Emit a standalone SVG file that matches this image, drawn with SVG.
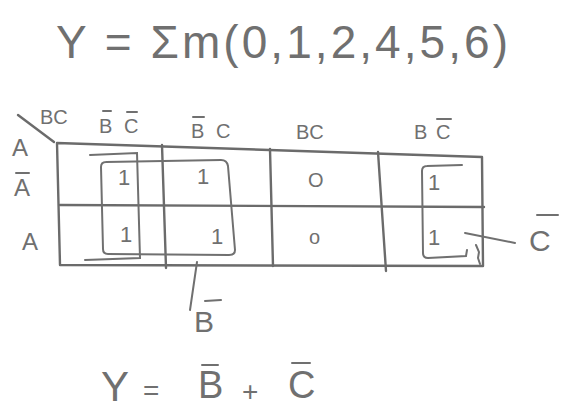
<svg xmlns="http://www.w3.org/2000/svg" width="561" height="410" viewBox="0 0 561 410">
<style>
.t{font-family:"Liberation Sans","DejaVu Sans",sans-serif;fill:#707070}
.l{stroke:#6b6b6b;stroke-width:2.4;fill:none;stroke-linecap:round;stroke-linejoin:round}
.b{stroke:#707070;stroke-width:2;fill:none;stroke-linecap:round}
</style>
<rect width="561" height="410" fill="#ffffff"/>
<g id="title"><text class="t" x="56" y="58" font-size="46" textLength="452" lengthAdjust="spacing">Y = Σm(0,1,2,4,5,6)</text></g>
<g id="headers">
<line class="l" x1="18" y1="115" x2="54" y2="142"/>
<text class="t" x="40" y="124" font-size="20">BC</text>
<text class="t" x="99" y="133" font-size="20">B</text><line class="b" x1="103" y1="111" x2="111" y2="111"/>
<text class="t" x="124" y="133" font-size="20">C</text><line class="b" x1="127" y1="112" x2="137" y2="112"/>
<text class="t" x="191" y="138" font-size="20">B</text><line class="b" x1="193" y1="117" x2="204" y2="117"/>
<text class="t" x="216" y="138" font-size="20">C</text>
<text class="t" x="296" y="139" font-size="20">BC</text>
<text class="t" x="414" y="139" font-size="20">B</text>
<text class="t" x="436" y="139" font-size="20">C</text><line class="b" x1="437" y1="119" x2="451" y2="119"/>
<text class="t" x="12" y="156" font-size="24">A</text>
<text class="t" x="14" y="196" font-size="24">A</text><line class="b" x1="16" y1="173" x2="29" y2="173"/>
<text class="t" x="22" y="250" font-size="24">A</text>
</g>
<g id="grid">
<path class="l" d="M57 143 L482 157 L483 266 L60 265 Z"/>
<line class="l" x1="60" y1="205" x2="484" y2="207"/>
<line class="l" x1="162" y1="145" x2="166" y2="268"/>
<line class="l" x1="270" y1="149" x2="273" y2="266"/>
<line class="l" x1="378" y1="152" x2="386" y2="271"/>
</g>
<g id="cells">
<text class="t" x="118" y="185" font-size="22">1</text>
<text class="t" x="197" y="184" font-size="22">1</text>
<text class="t" x="308" y="187" font-size="20">O</text>
<text class="t" x="428" y="190" font-size="22">1</text>
<text class="t" x="120" y="242" font-size="22">1</text>
<text class="t" x="211" y="244" font-size="22">1</text>
<text class="t" x="309" y="244" font-size="20">o</text>
<text class="t" x="428" y="245" font-size="22">1</text>
</g>
<g id="loops">
<path class="b" d="M106 162 L221 160 Q227 160 228 166 L235 250 Q235 255 229 255 L108 254 Q103 254 103 249 L101 167 Q101 162 106 162"/>
<path class="b" d="M90 155 L137 153 L140 258 L85 260"/>
<path class="b" d="M462 165 L427 166 Q422 166 422 171 L423 253 Q423 258 428 258 L466 256 L467 250"/>
<path class="b" d="M476 245 L479 252 L478 258 L480 264"/>
</g>
<g id="connectors">
<line class="b" x1="197" y1="262" x2="190" y2="310"/>
<line class="b" x1="465" y1="233" x2="515" y2="243"/>
</g>
<g id="labels">
<text class="t" x="529" y="251" font-size="30">C</text><line class="b" x1="537" y1="215" x2="558" y2="215"/>
<text class="t" x="194" y="332" font-size="30">B</text><line class="b" x1="205" y1="301" x2="221" y2="300"/>
<text class="t" x="101" y="401" font-size="42">Y</text>
<text class="t" x="143" y="400" font-size="28">=</text>
<text class="t" x="198" y="398" font-size="38">B</text><line class="b" x1="202" y1="365" x2="218" y2="365"/>
<text class="t" x="242" y="401" font-size="28">+</text>
<text class="t" x="288" y="398" font-size="38">C</text><line class="b" x1="292" y1="363" x2="310" y2="363"/>
</g>
</svg>
